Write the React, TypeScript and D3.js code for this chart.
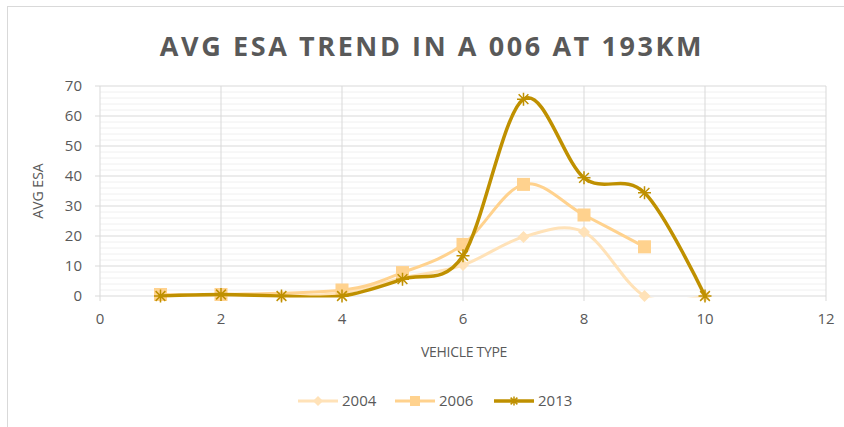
import React, { useEffect, useRef } from 'react';
import * as d3 from 'd3';

const title = 'AVG ESA TREND IN A 006 AT 193KM';
const xTicks = [0, 2, 4, 6, 8, 10, 12];
const yTicks = [0, 10, 20, 30, 40, 50, 60, 70];

const vehicleTypes = [1, 2, 3, 4, 5, 6, 7, 8, 9, 10];
const esa2004 = [0, 0.5, 0, 1, 6, 10.3, 19.7, 21.3, 0, 0];
const esa2006 = [0.5, 0.5, null, 2, 7.8, 17.2, 37.2, 27, 16.4, null];
const esa2013 = [0, 0.5, 0, 0, 5.6, 13.4, 65.6, 39.4, 34.4, 0];

const series = [
  { name: '2004', values: esa2004, color: '#FFE2B8', width: 3, marker: 'diamond' },
  { name: '2006', values: esa2006, color: '#FFD28E', width: 3, marker: 'square' },
  { name: '2013', values: esa2013, color: '#BF9000', width: 3.5, marker: 'star' },
];

const App = () => {
  const svgRef = useRef<SVGSVGElement>(null);

  useEffect(() => {
    const width = 844;
    const height = 427;
    const margin = { top: 86, right: 18, bottom: 131, left: 100 };
    const w = width - margin.left - margin.right;
    const h = height - margin.top - margin.bottom;

    const root = d3.select(svgRef.current);
    root.selectAll('*').remove();
    root.attr('width', width).attr('height', height);

    root.append('rect')
      .attr('x', 7.5).attr('y', 6.5)
      .attr('width', 840).attr('height', 425)
      .attr('fill', '#fff').attr('stroke', '#D9D9D9');

    root.append('text')
      .attr('x', 432).attr('y', 56)
      .attr('text-anchor', 'middle')
      .attr('font-family', 'Open Sans')
      .attr('font-weight', 'bold')
      .attr('font-size', 27)
      .attr('letter-spacing', 2.6)
      .attr('fill', '#595959')
      .text(title);

    const x = d3.scaleLinear().domain([0, 12]).range([0, w]);
    const y = d3.scaleLinear().domain([0, 70]).range([h, 0]);

    const g = root.append('g').attr('transform', `translate(${margin.left},${margin.top})`);

    // minor gridlines every 2
    g.append('g').selectAll('line')
      .data(d3.range(0, 71, 2).filter(v => v % 10 !== 0))
      .enter().append('line')
      .attr('x1', 0).attr('x2', w)
      .attr('y1', d => y(d)).attr('y2', d => y(d))
      .attr('stroke', '#F0F0F0');

    g.append('g').selectAll('line')
      .data(yTicks)
      .enter().append('line')
      .attr('x1', -5).attr('x2', w)
      .attr('y1', d => y(d)).attr('y2', d => y(d))
      .attr('stroke', '#D9D9D9');

    g.append('g').selectAll('line')
      .data(xTicks)
      .enter().append('line')
      .attr('x1', d => x(d)).attr('x2', d => x(d))
      .attr('y1', 0).attr('y2', h + 5)
      .attr('stroke', '#D9D9D9');

    g.append('g').selectAll('text')
      .data(yTicks)
      .enter().append('text')
      .attr('x', -18).attr('y', d => y(d)).attr('dy', '0.35em')
      .attr('text-anchor', 'end')
      .attr('font-family', 'Open Sans').attr('font-size', 15)
      .attr('fill', '#595959')
      .text(d => d);

    g.append('g').selectAll('text')
      .data(xTicks)
      .enter().append('text')
      .attr('x', d => x(d)).attr('y', h + 28)
      .attr('text-anchor', 'middle')
      .attr('font-family', 'Open Sans').attr('font-size', 15)
      .attr('fill', '#595959')
      .text(d => d);

    root.append('text')
      .attr('x', margin.left + w / 2 + 1).attr('y', 357)
      .attr('text-anchor', 'middle')
      .attr('font-family', 'Open Sans').attr('font-size', 14)
      .attr('letter-spacing', -0.3)
      .attr('fill', '#595959')
      .text('VEHICLE TYPE');

    root.append('text')
      .attr('transform', `translate(43,${margin.top + h / 2}) rotate(-90)`)
      .attr('text-anchor', 'middle')
      .attr('font-family', 'Open Sans').attr('font-size', 14)
      .attr('fill', '#595959')
      .text('AVG ESA');

    root.append('defs').append('clipPath').attr('id', 'plotclip')
      .append('rect').attr('x', 0).attr('y', -10).attr('width', w).attr('height', h + 11.5);

    const line = d3.line<[number, number | null]>()
      .defined(d => d[1] !== null)
      .x(d => x(d[0]))
      .y(d => y(d[1] as number))
      .curve(d3.curveCatmullRom.alpha(0));

    const drawMarker = (sel: any, kind: string, color: string, size: number) => {
      if (kind === 'diamond') {
        sel.append('path').attr('d', `M0,${-size / 2}L${size / 2},0L0,${size / 2}L${-size / 2},0Z`).attr('fill', color);
      } else if (kind === 'square') {
        sel.append('rect').attr('x', -size / 2).attr('y', -size / 2).attr('width', size).attr('height', size).attr('fill', color);
      } else {
        const r = size / 2;
        const p = `M${-r},0L${r},0M0,${-r}L0,${r}M${-r * 0.75},${-r * 0.75}L${r * 0.75},${r * 0.75}M${-r * 0.75},${r * 0.75}L${r * 0.75},${-r * 0.75}`;
        sel.append('path').attr('d', p).attr('stroke', color).attr('stroke-width', 1.5).attr('fill', 'none');
      }
    };

    const markerSize: Record<string, number> = { diamond: 12, square: 13, star: 13 };

    series.forEach(s => {
      const pts = vehicleTypes.map((v, i) => [v, s.values[i]] as [number, number | null]).filter(p => p[1] !== null);
      g.append('path')
        .datum(pts)
        .attr('clip-path', 'url(#plotclip)')
        .attr('fill', 'none')
        .attr('stroke', s.color)
        .attr('stroke-width', s.width)
        .attr('stroke-linecap', 'round')
        .attr('d', line);
      pts.forEach(p => {
        const m = g.append('g').attr('transform', `translate(${x(p[0])},${y(p[1] as number)})`);
        drawMarker(m, s.marker, s.color, markerSize[s.marker]);
      });
    });

    // legend
    const legendX = [298, 395, 494];
    const lg = root.append('g').attr('transform', 'translate(0,401)');
    series.forEach((s, i) => {
      const item = lg.append('g').attr('transform', `translate(${legendX[i]},0)`);
      item.append('line').attr('x1', 0).attr('x2', 40).attr('y1', 0).attr('y2', 0)
        .attr('stroke', s.color).attr('stroke-width', s.width);
      const m = item.append('g').attr('transform', 'translate(20,0)');
      drawMarker(m, s.marker, s.color, s.marker === 'star' ? 9 : 10);
      item.append('text').attr('x', 44).attr('y', 0).attr('dy', '0.35em')
        .attr('font-family', 'Open Sans').attr('font-size', 15)
        .attr('fill', '#595959')
        .text(s.name);
    });
  }, []);

  return <svg ref={svgRef} style={{ position: 'absolute', left: 0, top: 0 }} />;
};

export default App;
